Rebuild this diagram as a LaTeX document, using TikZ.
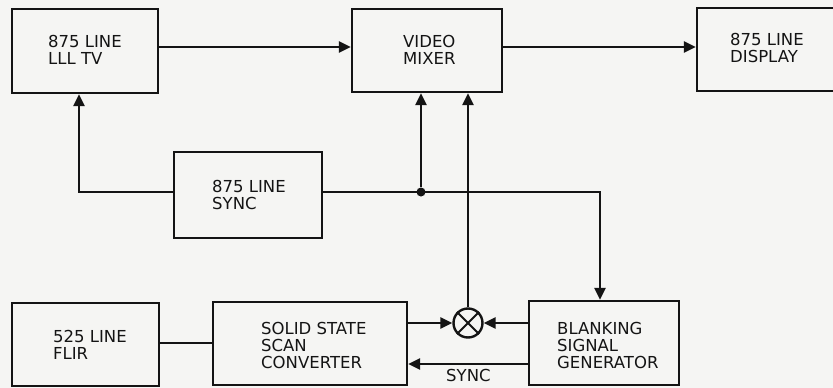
\documentclass[tikz,border=0pt]{standalone}
\usepackage{fontspec}
\setmainfont{DejaVu Sans}
\usetikzlibrary{arrows.meta}
\definecolor{ink}{HTML}{141414}
\definecolor{paper}{HTML}{F5F5F3}
\begin{document}
\begin{tikzpicture}[x=1pt,y=-1pt,
  blk/.style={draw=ink,line width=2.4pt,rectangle,inner sep=0pt},
  lbl/.style={anchor=north west,inner sep=0pt,align=left,text=ink,
    font=\fontsize{16.5}{17}\selectfont},
  wire/.style={draw=ink,line width=2.4pt},
  arr/.style={wire,-{Triangle[length=12pt,width=11pt]}},
  junc/.style={circle,fill=ink,inner sep=0pt,minimum size=9pt}]
\fill[paper] (0,0) rectangle (833,388);
\useasboundingbox (0,0) rectangle (833,388);
\clip (0,0) rectangle (833,388);
% boxes
\node[blk,minimum width=146pt,minimum height=84pt] (tv) at (85,51) {};
\node[blk,minimum width=150pt,minimum height=83pt] (mix) at (427,50.5) {};
\node[blk,minimum width=170pt,minimum height=83pt] (disp) at (782,49.5) {};
\node[blk,minimum width=148pt,minimum height=86pt] (sync) at (248,195) {};
\node[blk,minimum width=147pt,minimum height=83pt] (flir) at (85.5,344.5) {};
\node[blk,minimum width=194pt,minimum height=83pt] (conv) at (310,343.5) {};
\node[blk,minimum width=150pt,minimum height=84pt] (blank) at (604,343) {};
\node[draw=ink,line width=2.4pt,circle,minimum size=29pt,inner sep=0pt] (mult) at (468,323) {};
\draw[ink,line width=2pt] (mult.north west) -- (mult.south east) (mult.north east) -- (mult.south west);
% labels
\node[lbl] (tvt) at (48,35) {875 LINE\\LLL TV};
\node[lbl] (mixt) at (403,35) {VIDEO\\MIXER};
\node[lbl] (dispt) at (730,33) {875 LINE\\DISPLAY};
\node[lbl] (synct) at (212,180) {875 LINE\\SYNC};
\node[lbl] (flirt) at (53,330) {525 LINE\\FLIR};
\node[lbl] (convt) at (261,322) {SOLID STATE\\SCAN\\CONVERTER};
\node[lbl] (blankt) at (557,322) {BLANKING\\SIGNAL\\GENERATOR};
\node[lbl] (syncl) at (446,369) {SYNC};
% junction and corners
\node[junc] (dot) at (421,192) {};
\coordinate (c1) at (79,192);
\coordinate (c2) at (600,192);
% connectors
\draw[arr] (tv.east |- 0,47) -- (mix.west |- 0,47);
\draw[arr] (mix.east |- 0,47) -- (disp.west |- 0,47);
\draw[arr] (sync.west |- c1) -- (c1) -- (tv.south -| c1);
\draw[arr] (sync.east |- c2) -- (c2) -- (blank.north -| c2);
\draw[arr] (dot) -- (mix.south -| dot);
\draw[arr] (mult.north) -- (mix.south -| mult);
\draw[arr] (conv.east |- mult) -- (mult.west);
\draw[arr] (blank.west |- mult) -- (mult.east);
\draw[arr] (blank.west |- 0,364) -- (conv.east |- 0,364);
\draw[wire] (flir.east |- 0,343) -- (conv.west |- 0,343);
\end{tikzpicture}
\end{document}
